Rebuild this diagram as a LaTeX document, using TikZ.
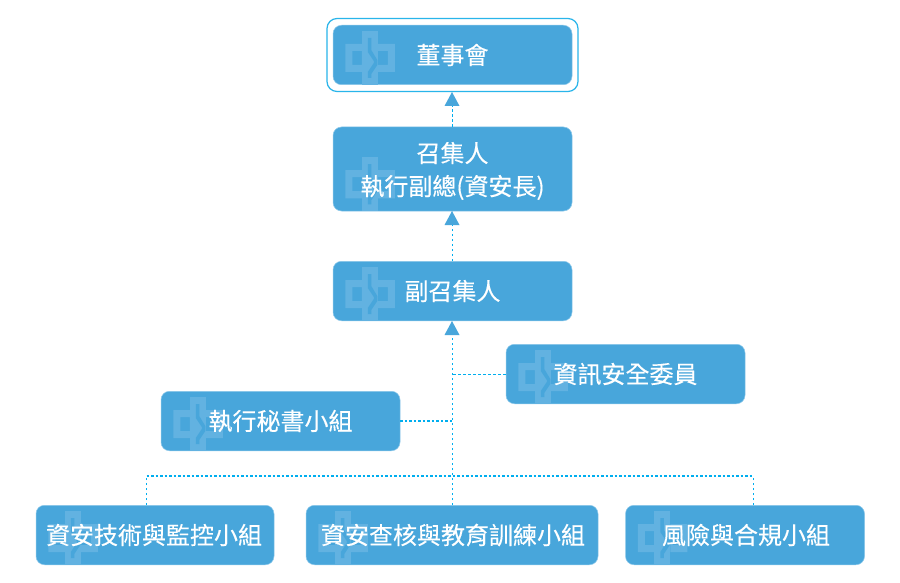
\documentclass[tikz,border=0pt]{standalone}
\usepackage{fontspec}
\setmainfont[FakeBold=0.3]{Noto Sans CJK TC}
\definecolor{boxblue}{HTML}{48A6DB}
\definecolor{logoblue}{HTML}{62B2E1}
\definecolor{edgeblue}{HTML}{8CC8EA}
\definecolor{linkblue}{HTML}{00AEEF}
\definecolor{framecol}{HTML}{29B5EA}
% logo sits on the lower left corner of a box
\newcommand{\logomark}[1]{%
  \begin{scope}[shift={(#1.south west)},x=1pt,y=1pt]
    \fill[logoblue,even odd rule]
      (12.5,13) rectangle (29,41) (19.5,20) rectangle (29,34);
    \fill[logoblue,even odd rule]
      (45,13) rectangle (62,41) (45,20) rectangle (55,34);
    \fill[logoblue] (29,0) rectangle (45,54);
    \fill[boxblue] (35,47) -- (38.5,47) -- (38.5,35) -- (44.5,25) -- (44.5,20) -- (38.5,11) -- (38.5,7) -- (35,7) -- (35,13) -- (41,22) -- (41,24) -- (35,33) -- cycle;
  \end{scope}}
\tikzset{
  orgbox/.style={draw=edgeblue,line width=0.5pt,fill=boxblue,rounded corners=8.5pt,
    minimum width=#1,minimum height=59.5pt,inner sep=0pt},
  orgbox/.default=239pt,
  orgtext/.style={text=white,inner sep=0pt,align=center,
    font=\fontsize{24}{33}\selectfont},
  link/.style={draw=linkblue,line width=1pt,dash pattern=on 2.5pt off 2.5pt},
  thicklink/.style={draw=linkblue,line width=1.5pt,dash pattern=on 2.5pt off 2pt},
  tip/.style={fill=boxblue,draw=none}
}
\begin{document}
\begin{tikzpicture}[x=1pt,y=-1pt]
\useasboundingbox[fill=white] (0,0) rectangle (900,583);
\node[draw=framecol,line width=1.2pt,rounded corners=10pt,minimum width=251pt,minimum height=73pt,inner sep=0pt] (frame) at (452.5,55) {};
\node[orgbox] (board) at (452.5,55) {};
\node[orgbox,minimum height=84pt] (conv) at (452.5,169) {};
\node[orgbox] (vice) at (452.5,291) {};
\node[orgbox] (sec) at (625.5,374) {};
\node[orgbox] (exec) at (280.5,421) {};
\node[orgbox=238pt] (tech) at (155,535) {};
\node[orgbox=292pt] (audit) at (452,535) {};
\node[orgbox] (risk) at (745,535) {};
\logomark{board}\logomark{conv}\logomark{vice}\logomark{sec}\logomark{exec}\logomark{tech}\logomark{audit}\logomark{risk}
\node[orgtext] (boardt) at (board) {董事會};
\node[orgtext] (convt) at (452.5,171) {召集人\\執行副總(資安長)};
\node[orgtext] (vicet) at (vice) {副召集人};
\node[orgtext] (sect) at (sec) {資訊安全委員};
\node[orgtext] (exect) at (exec) {執行秘書小組};
\node[orgtext] (techt) at (154,535) {資安技術與監控小組};
\node[orgtext] (auditt) at (453,535) {資安查核與教育訓練小組};
\node[orgtext] (riskt) at (746,535) {風險與合規小組};
\coordinate (ta) at (452,92);
\coordinate (tb) at (452,211);
\coordinate (tc) at (452,321);
\coordinate (jsec) at (452,374);
\coordinate (jexec) at (452,421);
\coordinate (busl) at (146.5,476);
\coordinate (busr) at (753.5,476);
\draw[link] (conv.north -| ta) -- (ta);
\draw[link] (vice.north -| tb) -- (tb);
\draw[link] (audit.north -| tc) -- (tc);
\draw[link] (sec.west) -- (jsec);
\draw[thicklink] (exec.east) -- (jexec);
\draw[thicklink] (busl) -- (busr);
\draw[link] (tech.north -| busl) -- (busl);
\draw[link] (risk.north -| busr) -- (busr);
\fill[tip] (ta) -- ++(7.5,14) -- ++(-15,0) -- cycle;
\fill[tip] (tb) -- ++(7.5,14) -- ++(-15,0) -- cycle;
\fill[tip] (tc) -- ++(7.5,14) -- ++(-15,0) -- cycle;
\end{tikzpicture}
\end{document}
